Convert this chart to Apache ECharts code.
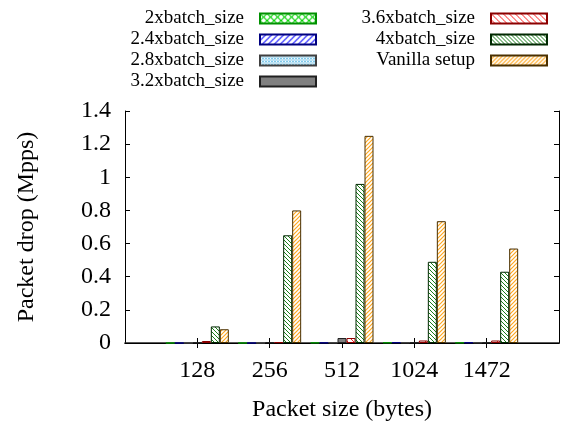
<!DOCTYPE html>
<html>
<head>
<meta charset="utf-8">
<script src="https://cdn.jsdelivr.net/npm/echarts@6/dist/echarts.min.js"></script>
<style>
    html, body { margin: 0; padding: 0; background: #fff; }
    #chart { width: 565px; height: 422px; }
</style>
</head>
<body>
<div id="chart"></div>
<script>
// packet sizes (empty slots pad the x range to -1 .. 5 like gnuplot)
var categories = ['', '128', '256', '512', '1024', '1472', ''];
var seriesNames = ['2xbatch_size', '2.4xbatch_size', '2.8xbatch_size', '3.2xbatch_size',
    '3.6xbatch_size', '4xbatch_size', 'Vanilla setup'];

// packet drop (Mpps) per packet size
var drop2x = [0, 0, 0.002, 0.003, 0.002];
var drop24x = [0, 0, 0.002, 0.004, 0.003];
var drop28x = [0, 0, 0.002, 0.003, 0.003];
var drop32x = [0.003, 0.004, 0.03, 0.003, 0.003];
var drop36x = [0.012, 0.005, 0.03, 0.015, 0.015];
var drop4x = [0.1, 0.65, 0.96, 0.49, 0.43];
var dropVanilla = [0.083, 0.80, 1.25, 0.735, 0.57];

var yTicks = [0, 0.2, 0.4, 0.6, 0.8, 1, 1.2, 1.4];

var font = 'Liberation Serif';

// small canvas tile used as a repeating fill
function hatch(color, size, dir, width) {
    var c = document.createElement('canvas');
    c.width = size;
    c.height = size;
    var ctx = c.getContext('2d');
    ctx.fillStyle = '#fff';
    ctx.fillRect(0, 0, size, size);
    ctx.strokeStyle = color;
    ctx.lineWidth = width;
    function slash() {
        ctx.beginPath();
        ctx.moveTo(-1, size + 1); ctx.lineTo(size + 1, -1);
        ctx.moveTo(-1, 1); ctx.lineTo(1, -1);
        ctx.moveTo(size - 1, size + 1); ctx.lineTo(size + 1, size - 1);
        ctx.stroke();
    }
    function back() {
        ctx.beginPath();
        ctx.moveTo(-1, -1); ctx.lineTo(size + 1, size + 1);
        ctx.moveTo(size - 1, -1); ctx.lineTo(size + 1, 1);
        ctx.moveTo(-1, size - 1); ctx.lineTo(1, size + 1);
        ctx.stroke();
    }
    if (dir === '/' || dir === 'x') slash();
    if (dir === '\\' || dir === 'x') back();
    return {image: c, repeat: 'repeat'};
}

var fills = [
    hatch('#00d000', 7, 'x', 1.1),
    hatch('#1010ff', 6, '/', 1.1),
    hatch('#7ec8ea', 3, 'x', 1),
    '#808080',
    hatch('#ff2020', 6, '\\', 1),
    hatch('#1a801a', 4, '\\', 1),
    hatch('#ffa820', 4, '/', 1.2)
];
var borders = ['#009000', '#000080', '#404040', '#202020', '#8b0000', '#002800', '#4a3000'];
var values = [drop2x, drop24x, drop28x, drop32x, drop36x, drop4x, dropVanilla];

var chart = echarts.init(document.getElementById('chart'));

var series = [];
for (var i = 0; i < seriesNames.length; i++) {
    series.push({
        name: seriesNames[i],
        type: 'bar',
        barWidth: 9,
        barGap: '0%',
        data: [null].concat(values[i]).concat([null]),
        itemStyle: {
            color: fills[i],
            borderColor: borders[i],
            borderWidth: 1
        }
    });
}

function legendBox(names, right) {
    return {
        data: names,
        orient: 'vertical',
        align: 'right',
        right: right,
        top: 9,
        padding: 0,
        icon: 'rect',
        itemWidth: 56,
        itemHeight: 10,
        itemGap: 2,
        textStyle: {fontFamily: font, fontSize: 19, color: '#000', padding: [0, 11, 0, 0]}
    };
}

var option = {
    animation: false,
    backgroundColor: '#fff',
    legend: [
        legendBox(seriesNames.slice(0, 4), 248),
        legendBox(seriesNames.slice(4), 17)
    ],
    grid: {left: 125, right: 6, top: 111, bottom: 79, containLabel: false, outerBoundsMode: 'none'},
    xAxis: [
        {
            type: 'category',
            data: categories,
            boundaryGap: false,
            name: 'Packet size (bytes)',
            nameLocation: 'middle',
            nameGap: 55,
            nameTextStyle: {fontFamily: font, fontSize: 24, color: '#000'},
            axisLine: {lineStyle: {color: '#222', width: 1.5}},
            axisTick: {
                inside: true, length: 5,
                interval: function (idx, val) { return val !== ''; },
                lineStyle: {color: '#000'}
            },
            axisLabel: {interval: 0, margin: 16, fontFamily: font, fontSize: 24, color: '#000'},
            splitLine: {show: false}
        },
        {
            type: 'category',
            data: categories,
            boundaryGap: false,
            position: 'top',
            axisLine: {lineStyle: {color: '#000', width: 1}},
            axisTick: {
                inside: true, length: 5,
                interval: function (idx, val) { return val !== ''; },
                lineStyle: {color: '#000'}
            },
            axisLabel: {show: false},
            splitLine: {show: false}
        }
    ],
    yAxis: [
        {
            type: 'value',
            min: yTicks[0],
            max: yTicks[yTicks.length - 1],
            interval: 0.2,
            name: 'Packet drop (Mpps)',
            nameLocation: 'middle',
            nameGap: 86,
            nameTextStyle: {fontFamily: font, fontSize: 24, color: '#000'},
            axisLine: {show: true, lineStyle: {color: '#000', width: 1}},
            axisTick: {show: true, inside: true, length: 5, lineStyle: {color: '#000'}},
            axisLabel: {margin: 14, fontFamily: font, fontSize: 24, color: '#000'},
            splitLine: {show: false}
        },
        {
            type: 'value',
            min: yTicks[0],
            max: yTicks[yTicks.length - 1],
            interval: 0.2,
            position: 'right',
            axisLine: {show: true, lineStyle: {color: '#000', width: 1}},
            axisTick: {show: true, inside: true, length: 5, lineStyle: {color: '#000'}},
            axisLabel: {show: false},
            splitLine: {show: false}
        }
    ],
    series: series
};

chart.setOption(option);
</script>
</body>
</html>
